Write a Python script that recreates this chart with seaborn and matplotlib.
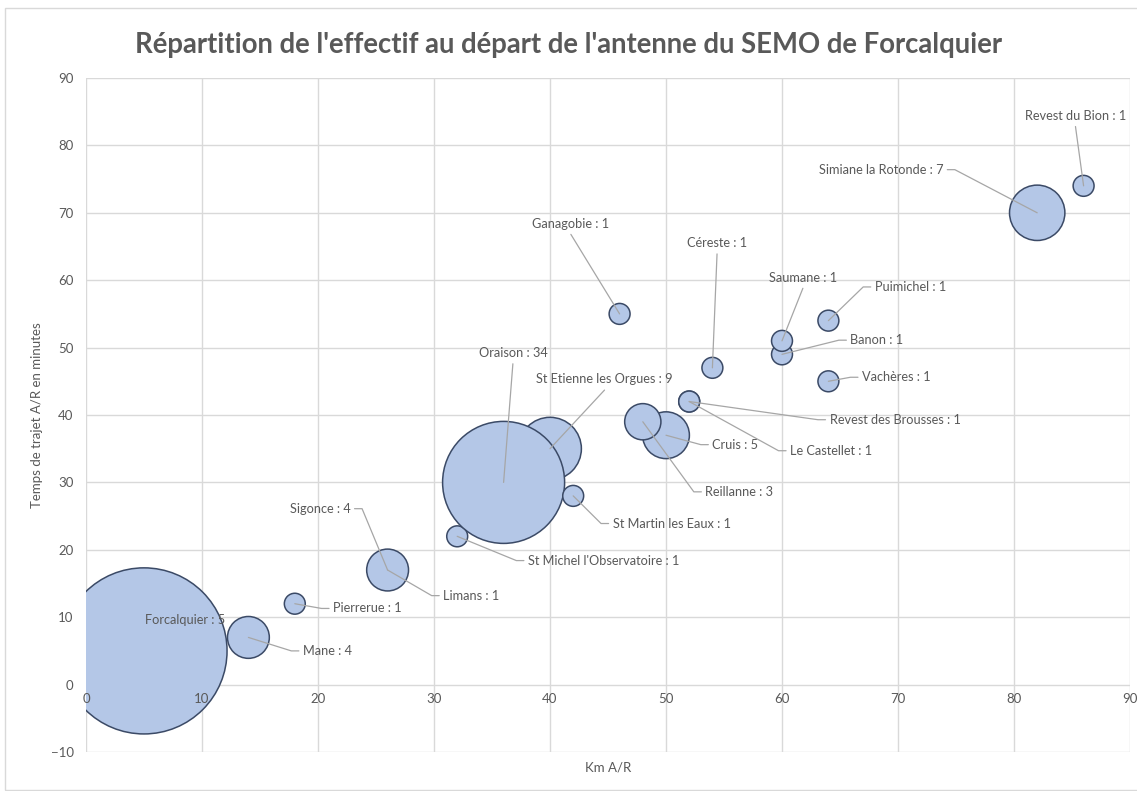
import numpy as np
import pandas as pd
import matplotlib.pyplot as plt
import matplotlib.patches as mpatches
import seaborn as sns

# ====================== données ======================
communes = ["Forcalquier", "Mane", "Pierrerue", "Limans", "Sigonce",
            "St Michel l'Observatoire", "St Etienne les Orgues", "Oraison",
            "St Martin les Eaux", "Cruis", "Reillanne", "Le Castellet",
            "Revest des Brousses", "Céreste", "Ganagobie", "Banon", "Saumane",
            "Puimichel", "Vachères", "Simiane la Rotonde", "Revest du Bion"]
km_ar = [5, 14, 18, 26, 26, 32, 40, 36, 42, 50, 48, 52, 52, 54, 46, 60, 60, 64, 64, 82, 86]
temps_ar = [5, 7, 12, 17, 17, 22, 35, 30, 28, 37, 39, 42, 42, 47, 55, 49, 51, 54, 45, 70, 74]
effectif = [63, 4, 1, 1, 4, 1, 9, 34, 1, 5, 3, 1, 1, 1, 1, 1, 1, 1, 1, 7, 1]
etiquettes = ["Forcalquier : 5", "Mane : 4", "Pierrerue : 1", "Limans : 1", "Sigonce : 4",
              "St Michel l'Observatoire : 1", "St Etienne les Orgues : 9", "Oraison : 34",
              "St Martin les Eaux : 1", "Cruis : 5", "Reillanne : 3", "Le Castellet : 1",
              "Revest des Brousses : 1", "Céreste : 1", "Ganagobie : 1", "Banon : 1",
              "Saumane : 1", "Puimichel : 1", "Vachères : 1", "Simiane la Rotonde : 7",
              "Revest du Bion : 1"]

# position des étiquettes (coordonnées des données) et alignement
etiq_x = [8.5, 18.7, 21.3, 30.8, 22.8, 38.1, 44.7, 36.8, 45.4, 54.0, 53.4, 60.7,
          64.1, 54.4, 41.8, 65.9, 61.8, 68.0, 66.9, 73.9, 85.3]
etiq_y = [9.6, 5.0, 11.3, 13.2, 26.1, 18.4, 45.3, 49.2, 23.9, 35.6, 28.6, 34.7,
          39.3, 65.5, 68.4, 51.1, 60.4, 59.0, 45.6, 76.4, 84.4]
etiq_ha = ["center", "left", "left", "left", "right", "left", "center", "center",
           "left", "left", "left", "left", "left", "center", "center", "left",
           "center", "left", "left", "right", "center"]

df = pd.DataFrame({"commune": communes, "km": km_ar, "temps": temps_ar, "effectif": effectif})

# ====================== style ======================
sns.set_theme(style="white")
plt.rcParams["font.family"] = ["Lato", "DejaVu Sans"]
GRIS_TXT = "#595959"
GRIS_GRILLE = "#D9D9D9"

fig = plt.figure(figsize=(11.37, 7.91), dpi=100)
ax = fig.add_axes([86 / 1137, 39 / 791, 1044 / 1137, 674 / 791])

# cadre de la zone de graphique
fig.patches.append(mpatches.Rectangle((5 / 1137, 1 / 791), 1.0, 1 - 9 / 791,
                                      transform=fig.transFigure, fill=False,
                                      edgecolor=GRIS_GRILLE, linewidth=1))

ax.set_xlim(0, 90)
ax.set_ylim(-10, 90)
xticks = np.arange(0, 91, 10)
yticks = np.arange(-10, 91, 10)

# quadrillage sous les bulles, graduations au-dessus
for xv in xticks:
    ax.axvline(xv, color=GRIS_GRILLE, linewidth=1, zorder=0)
for yv in yticks:
    ax.axhline(yv, color=GRIS_GRILLE, linewidth=1, zorder=0)
ax.set_axisbelow(False)

# bulles : aire proportionnelle à l'effectif
k = 227
sns.scatterplot(data=df, x="km", y="temps", size="effectif",
                sizes=(k * min(effectif), k * max(effectif)),
                size_norm=(min(effectif), max(effectif)),
                color="#B4C7E7", edgecolor="#3B4A66", linewidth=1.1,
                alpha=1, legend=False, ax=ax, zorder=1)

# étiquettes + lignes de repère
for i, txt in enumerate(etiquettes):
    lx, ly, ha = etiq_x[i], etiq_y[i], etiq_ha[i]
    cx, cy = km_ar[i], temps_ar[i]
    ax.text(lx, ly, txt, ha=ha, va="center", fontsize=9.2, color=GRIS_TXT, zorder=4)
    if i == 0:
        continue
    if ha == "left":
        pts = [(lx - 0.35, ly), (lx - 1.0, ly), (cx, cy)]
    elif ha == "right":
        pts = [(lx + 0.35, ly), (lx + 1.0, ly), (cx, cy)]
    else:
        pts = [(lx, ly - 1.6), (cx, cy)]
    ax.plot([p[0] for p in pts], [p[1] for p in pts], color="#A6A6A6",
            linewidth=0.9, zorder=3)

# axes
ax.set_xticks(xticks)
ax.set_yticks(yticks)
ax.spines["bottom"].set_position(("data", 0))
for s in ax.spines.values():
    s.set_visible(False)
ax.tick_params(axis="both", length=0, labelsize=9.5, labelcolor=GRIS_TXT)
ax.tick_params(axis="x", pad=6)
ax.tick_params(axis="y", pad=9)
ax.set_xlabel("")
ax.set_ylabel("")

fig.text(0.535, 1 - 768 / 791, "Km A/R", ha="center", va="center",
         fontsize=9.5, color=GRIS_TXT)
fig.text(37 / 1137, 1 - 415 / 791, "Temps de trajet A/R en minutes", ha="center",
         va="center", rotation=90, fontsize=9.5, color=GRIS_TXT)
fig.text(0.5, 1 - 45 / 791,
         "Répartition de l'effectif au départ de l'antenne du SEMO de Forcalquier",
         ha="center", va="center", fontsize=19.8, fontweight="bold", color=GRIS_TXT)

fig.savefig("out.png", dpi=100)
